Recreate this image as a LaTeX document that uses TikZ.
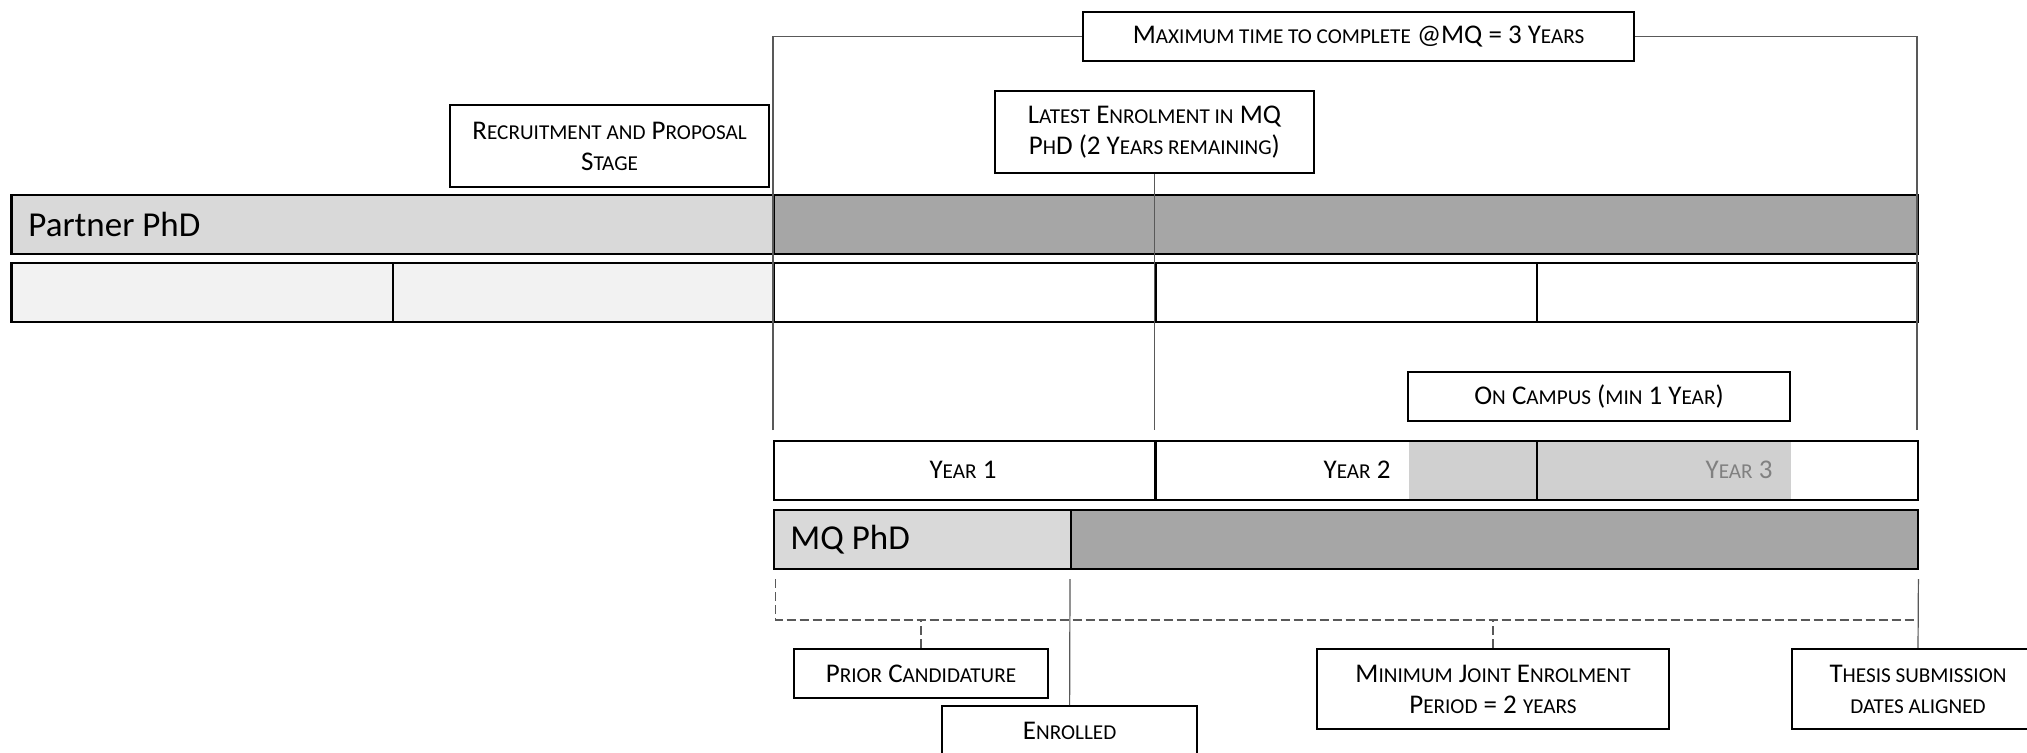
\documentclass[tikz,border=0pt]{standalone}
\usepackage{fontspec}
\setmainfont{Carlito}
\usetikzlibrary{positioning}
\definecolor{barlight}{HTML}{D9D9D9}
\definecolor{bardark}{HTML}{A6A6A6}
\definecolor{celllight}{HTML}{F2F2F2}
\definecolor{campusfill}{HTML}{D0D0D0}
\definecolor{guide}{HTML}{595959}
\newcommand{\Sc}[1]{{\fontsize{10.6}{15.5}\selectfont\MakeUppercase{#1}}}
\tikzstyle{bar} = [draw=black, line width=1.1pt, inner sep=0pt, anchor=north west, minimum height=29.5pt]
\tikzstyle{cellY} = [bar, minimum width=190.7pt]
\tikzstyle{title} = [inner sep=0pt, anchor=west, font=\fontsize{17.5}{19}\selectfont]
\tikzstyle{yearlbl} = [inner sep=0pt, font=\fontsize{13.5}{15.5}\selectfont]
\tikzstyle{note} = [draw=black, line width=1.1pt, fill=white, inner sep=0pt, align=center, font=\fontsize{13.5}{15.5}\selectfont]
\tikzstyle{guideline} = [draw=guide, line width=0.6pt]
\tikzstyle{guidedash} = [guideline, dash pattern=on 4.5pt off 2pt]

\begin{document}
\begin{tikzpicture}[x=1pt, y=-1pt]
\path[fill=white, use as bounding box] (0,0) rectangle (1013.5,376);

% Define nodes
% Partner PhD bar
\node[bar, fill=barlight, minimum width=381.3pt]   (partL) at (5.2,97) {};
\node[bar, fill=bardark,  minimum width=572pt]     (partR) at (386.5,97) {};
\node[title, right = 8.8pt of partL.west]          (partT) {Partner PhD};

% years below partner bar
\node[cellY, fill=celllight] (c1) at (5.2,131) {};
\node[cellY, fill=celllight] (c2) at (195.9,131) {};
\node[cellY]                 (c3) at (386.5,131) {};
\node[cellY]                 (c4) at (577.2,131) {};
\node[cellY]                 (c5) at (767.9,131) {};

% MQ years
\node[bar, draw=none, fill=campusfill, minimum width=191pt] (yfill) at (704,220) {};
\node[cellY] (y1) at (386.5,220) {};
\node[cellY] (y2) at (577.2,220) {};
\node[cellY] (y3) at (767.9,220) {};
\node[yearlbl]                (y1t) at (481.5,235) {Y\Sc{ear} 1};
\node[yearlbl]                (y2t) at (678.5,235) {Y\Sc{ear} 2};
\node[yearlbl, text=black!50] (y3t) at (869.5,235) {Y\Sc{ear} 3};

% MQ PhD bar
\node[bar, fill=barlight, minimum width=148.5pt]   (mqL) at (386.5,254.5) {};
\node[bar, fill=bardark,  minimum width=423.5pt]   (mqR) at (535,254.5) {};
\node[title, right = 8.5pt of mqL.west]            (mqT) {MQ PhD};

% notes
\node[note, minimum width=275.5pt, minimum height=24.6pt] (maxT)     at (679.3,18.1)  {M\Sc{aximum time to complete} @MQ = 3 Y\Sc{ears}};
\node[note, minimum width=159.5pt, minimum height=41.2pt] (latest)   at (577.2,65.9)  {L\Sc{atest} E\Sc{nrolment in} MQ\\P\Sc{h}D (2 Y\Sc{ears remaining})};
\node[note, minimum width=159.5pt, minimum height=41.3pt] (recruit)  at (304.8,73)    {R\Sc{ecruitment and} P\Sc{roposal}\\S\Sc{tage}};
\node[note, minimum width=191pt,   minimum height=24.5pt] (campus)   at (799.5,198.3) {O\Sc{n} C\Sc{ampus} (\Sc{min} 1 Y\Sc{ear})};
\node[note, minimum width=127pt,   minimum height=24.5pt] (prior)    at (460.5,336.8) {P\Sc{rior} C\Sc{andidature}};
\node[note, minimum width=127.5pt, minimum height=24.5pt] (enrol)    at (534.8,365.3) {E\Sc{nrolled}};
\node[note, minimum width=176pt,   minimum height=40pt]   (minjoint) at (746.5,344.5) {M\Sc{inimum} J\Sc{oint} E\Sc{nrolment}\\P\Sc{eriod} = 2 \Sc{years}};
\node[note, minimum width=126pt,   minimum height=40pt]   (thesis)   at (959,344.5)   {T\Sc{hesis submission}\\\Sc{dates aligned}};

\coordinate (maxL)    at (386.5,215);
\coordinate (maxR)    at (958.5,215);
\coordinate (latB)    at (577.2,215);
\coordinate (jointL)  at (387.8,289.5);
\coordinate (jointE)  at (958.5,310);
\coordinate (enrolT)  at (535,289.5);
\coordinate (thesisT) at (959.2,289.5);

% Edges
\draw[guideline] (maxL) |- (maxT.west);
\draw[guideline] (maxR) |- (maxT.east);
\draw[guideline] (latest.south) -- (latB);
\draw[guidedash] (jointL) |- (jointE);
\draw[guidedash] (prior.north) -- (prior.north |- jointE);
\draw[guidedash] (minjoint.north) -- (minjoint.north |- jointE);
\draw[guideline] (enrolT) -- (enrol.north);
\draw[guideline] (thesisT) -- (thesis.north);
\end{tikzpicture}
\end{document}
